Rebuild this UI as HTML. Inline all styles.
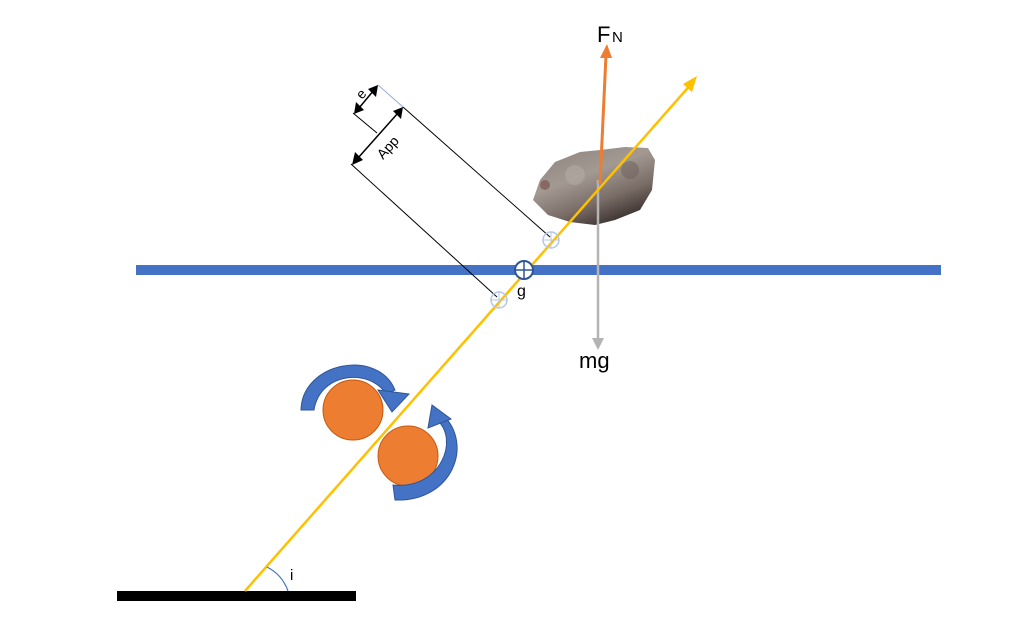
<!DOCTYPE html>
<html><head><style>body{margin:0;background:#fff}svg{display:block}</style></head><body>
<svg width="1024" height="628" viewBox="0 0 1024 628" xmlns="http://www.w3.org/2000/svg" font-family="Liberation Sans, sans-serif">
<defs>
<linearGradient id="rk" x1="0" y1="0" x2="0.6" y2="1">
<stop offset="0" stop-color="#8c817b"/><stop offset="0.45" stop-color="#a39993"/><stop offset="0.75" stop-color="#7a6d67"/><stop offset="1" stop-color="#3e3431"/>
</linearGradient>
</defs>
<rect x="136" y="265" width="805" height="10" fill="#4472c4"/>
<rect x="117" y="591" width="239" height="10" fill="#000"/>
<path d="M533,200 L540,180 L555,162 L580,152 L600,150 L625,147 L648,148 L655,160 L652,190 L640,210 L615,220 L595,225 L570,222 L548,215 Z" fill="url(#rk)"/>
<circle cx="575" cy="175" r="10" fill="#b3aaa4" opacity="0.6"/>
<circle cx="630" cy="170" r="9" fill="#6d5f5a" opacity="0.5"/>
<circle cx="545" cy="185" r="5" fill="#7a4a44" opacity="0.6"/>
<line x1="598" y1="180" x2="598" y2="340" stroke="#b4b4b4" stroke-width="2.5"/>
<polygon points="592,338 604,338 598,350" fill="#b4b4b4"/>
<line x1="600" y1="184" x2="606" y2="55" stroke="#ed7d31" stroke-width="3"/>
<polygon points="600,58 612,58 607,44" fill="#ed7d31"/>
<line x1="245" y1="591" x2="693" y2="82" stroke="#ffc000" stroke-width="2.5"/>
<polygon points="697,76 683,84 692,92" fill="#ffc000"/>
<path d="M267,567 A43,43 0 0 1 288,591" stroke="#4472c4" stroke-width="1.2" fill="none"/>
<text x="290" y="580" font-size="15">i</text>
<line x1="403" y1="107" x2="550" y2="237" stroke="#000" stroke-width="1"/>
<line x1="351" y1="164" x2="497" y2="297" stroke="#000" stroke-width="1"/>
<line x1="378" y1="85" x2="403" y2="107" stroke="#8faadc" stroke-width="1"/>
<line x1="353" y1="113" x2="377" y2="133" stroke="#000" stroke-width="1"/>
<line x1="358" y1="158" x2="398" y2="113" stroke="#000" stroke-width="1.5"/>
<polygon points="352,165 355,152 363,160" fill="#000"/>
<polygon points="403,107 393,111 401,119" fill="#000"/>
<line x1="359" y1="108" x2="374" y2="90" stroke="#000" stroke-width="1.5"/>
<polygon points="354,114 356,102 364,110" fill="#000"/>
<polygon points="378,85 368,89 376,97" fill="#000"/>
<text x="0" y="0" font-size="14" transform="translate(362,100) rotate(-48)">e</text>
<text x="0" y="0" font-size="14" transform="translate(383,160) rotate(-48)">App</text>
<circle cx="551" cy="240" r="8" fill="none" stroke="#b4c7e7" stroke-width="1.5"/>
<line x1="543" y1="240" x2="559" y2="240" stroke="#b4c7e7"/><line x1="551" y1="232" x2="551" y2="248" stroke="#b4c7e7"/>
<circle cx="499" cy="300" r="8" fill="none" stroke="#b4c7e7" stroke-width="1.5"/>
<line x1="491" y1="300" x2="507" y2="300" stroke="#b4c7e7"/><line x1="499" y1="292" x2="499" y2="308" stroke="#b4c7e7"/>
<circle cx="524" cy="270" r="9" fill="#fff" stroke="#2f5597" stroke-width="2"/>
<line x1="515" y1="270" x2="533" y2="270" stroke="#2f5597" stroke-width="1.5"/><line x1="524" y1="261" x2="524" y2="279" stroke="#2f5597" stroke-width="1.5"/>
<text x="517" y="296" font-size="16">g</text>
<text x="597" y="42" font-size="22">F</text><text x="612" y="42" font-size="15">N</text>
<text x="579" y="368" font-size="22">mg</text>
<circle cx="353" cy="410" r="30" fill="#ed7d31" stroke="#c55a11" stroke-width="1"/>
<circle cx="408" cy="456" r="30" fill="#ed7d31" stroke="#c55a11" stroke-width="1"/>
<path d="M301,410 C302,362 378,348 395,390 L386,394 C370,368 320,372 314,410 Z" fill="#4472c4" stroke="#2f5597" stroke-width="1"/>
<polygon points="378,390 409,394 392,412" fill="#4472c4" stroke="#2f5597" stroke-width="1"/>
<path d="M393,485 C440,490 460,440 437,420 L443,415 C474,445 452,502 395,500 Z" fill="#4472c4" stroke="#2f5597" stroke-width="1"/>
<polygon points="428,428 432,405 451,419" fill="#4472c4" stroke="#2f5597" stroke-width="1"/>
</svg>
</body></html>
